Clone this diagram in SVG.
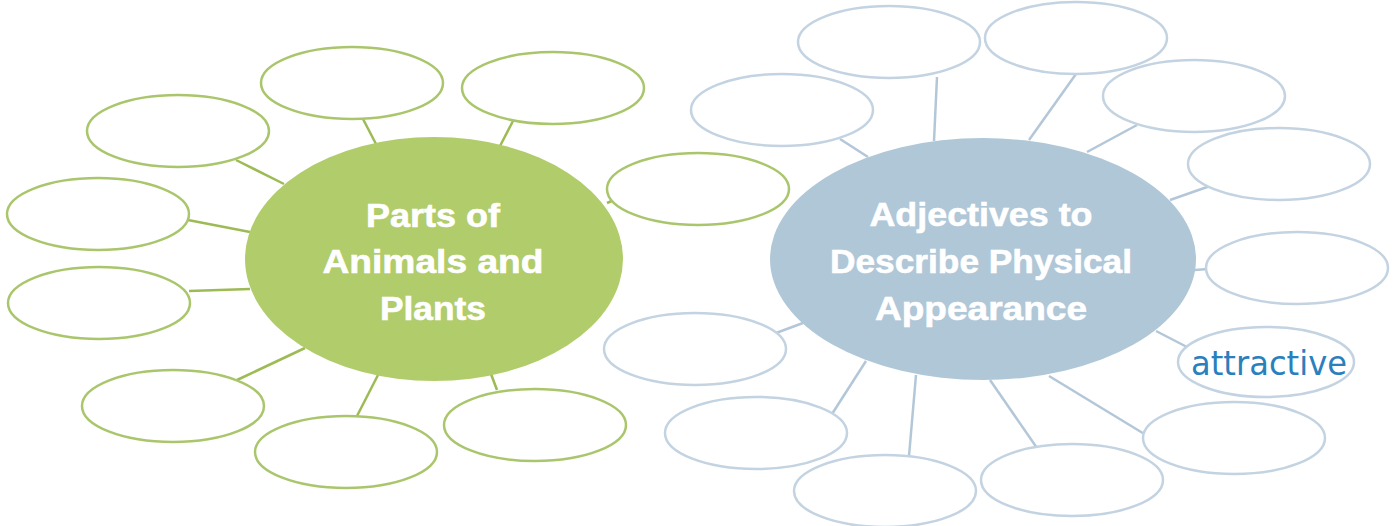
<svg xmlns="http://www.w3.org/2000/svg" width="1398" height="526" viewBox="0 0 1398 526">
<style>
.g{fill:#fff;stroke:#aac66c;stroke-width:2.5}
.b{fill:#fff;stroke:#c3d3e1;stroke-width:2.5}
.gl{stroke:#9dbb55;stroke-width:2.5;fill:none}
.bl{stroke:#b3c7d8;stroke-width:2.5;fill:none}
.t{font-family:"Liberation Sans",Arial,sans-serif;font-weight:bold;font-size:34px;fill:#fff;text-anchor:middle;stroke:#fff;stroke-width:0.6}
.h{font-family:"Comic Sans MS","DejaVu Sans",sans-serif;font-size:33px;fill:#2a80bd}
</style>
<rect width="1398" height="526" fill="#fff"/>
<g id="connectors">
<line class="gl" x1="363" y1="119" x2="376" y2="144"/>
<line class="gl" x1="513" y1="121" x2="500" y2="146"/>
<line class="gl" x1="236" y1="160" x2="284" y2="184"/>
<line class="gl" x1="188" y1="220" x2="250" y2="232"/>
<line class="gl" x1="189" y1="291" x2="250" y2="289"/>
<line class="gl" x1="237" y1="380" x2="305" y2="348"/>
<line class="gl" x1="357" y1="416" x2="378" y2="375"/>
<line class="gl" x1="497" y1="390" x2="491" y2="374"/>
<line class="gl" x1="607" y1="203" x2="614" y2="200"/>
<line class="bl" x1="937" y1="77" x2="934" y2="141"/>
<line class="bl" x1="1076" y1="74" x2="1029" y2="140"/>
<line class="bl" x1="840" y1="139" x2="868" y2="157"/>
<line class="bl" x1="1137" y1="125" x2="1087" y2="152"/>
<line class="bl" x1="1210" y1="186" x2="1170" y2="200"/>
<line class="bl" x1="1208" y1="269" x2="1195" y2="270"/>
<line class="bl" x1="1156" y1="331" x2="1187" y2="347"/>
<line class="bl" x1="1049" y1="376" x2="1146" y2="435"/>
<line class="bl" x1="990" y1="380" x2="1037" y2="448"/>
<line class="bl" x1="916" y1="375" x2="909" y2="456"/>
<line class="bl" x1="866" y1="361" x2="832" y2="414"/>
<line class="bl" x1="803" y1="323" x2="776" y2="333"/>
</g>
<g id="g1"><ellipse class="g" cx="352" cy="83" rx="91" ry="36"/></g>
<g id="g2"><ellipse class="g" cx="553" cy="88" rx="91" ry="36"/></g>
<g id="g3"><ellipse class="g" cx="178" cy="131" rx="91" ry="36"/></g>
<g id="g4"><ellipse class="g" cx="98" cy="214" rx="91" ry="36"/></g>
<g id="g5"><ellipse class="g" cx="99" cy="303" rx="91" ry="36"/></g>
<g id="g6"><ellipse class="g" cx="173" cy="406" rx="91" ry="36"/></g>
<g id="g7"><ellipse class="g" cx="346" cy="452" rx="91" ry="36"/></g>
<g id="g8"><ellipse class="g" cx="535" cy="425" rx="91" ry="36"/></g>
<g id="g9"><ellipse class="g" cx="698" cy="189" rx="91" ry="36"/></g>
<g id="b1"><ellipse class="b" cx="889" cy="42" rx="91" ry="36"/></g>
<g id="b2"><ellipse class="b" cx="1076" cy="38" rx="91" ry="36"/></g>
<g id="b3"><ellipse class="b" cx="782" cy="110" rx="91" ry="36"/></g>
<g id="b4"><ellipse class="b" cx="1194" cy="96" rx="91" ry="36"/></g>
<g id="b5"><ellipse class="b" cx="1279" cy="164" rx="91" ry="36"/></g>
<g id="b6"><ellipse class="b" cx="1297" cy="268" rx="91" ry="36"/></g>
<g id="b7"><ellipse class="b" cx="1266" cy="362" rx="88" ry="35"/><text class="h" x="1191" y="375" textLength="156" lengthAdjust="spacingAndGlyphs">attractive</text></g>
<g id="b8"><ellipse class="b" cx="1234" cy="438" rx="91" ry="36"/></g>
<g id="b9"><ellipse class="b" cx="1072" cy="480" rx="91" ry="36"/></g>
<g id="b10"><ellipse class="b" cx="885" cy="491" rx="91" ry="36"/></g>
<g id="b11"><ellipse class="b" cx="756" cy="433" rx="91" ry="36"/></g>
<g id="b12"><ellipse class="b" cx="695" cy="349" rx="91" ry="36"/></g>
<g id="center-left">
<ellipse cx="434" cy="259" rx="189" ry="122" fill="#b1cc6a"/>
<text class="t" x="433" y="227" textLength="134" lengthAdjust="spacingAndGlyphs">Parts of</text>
<text class="t" x="433" y="273" textLength="221" lengthAdjust="spacingAndGlyphs">Animals and</text>
<text class="t" x="433" y="320" textLength="106" lengthAdjust="spacingAndGlyphs">Plants</text>
</g>
<g id="center-right">
<ellipse cx="983" cy="259" rx="213" ry="121" fill="#b0c7d8"/>
<text class="t" x="981" y="226" textLength="223" lengthAdjust="spacingAndGlyphs">Adjectives to</text>
<text class="t" x="981" y="273" textLength="302" lengthAdjust="spacingAndGlyphs">Describe Physical</text>
<text class="t" x="981" y="320" textLength="212" lengthAdjust="spacingAndGlyphs">Appearance</text>
</g>
</svg>
